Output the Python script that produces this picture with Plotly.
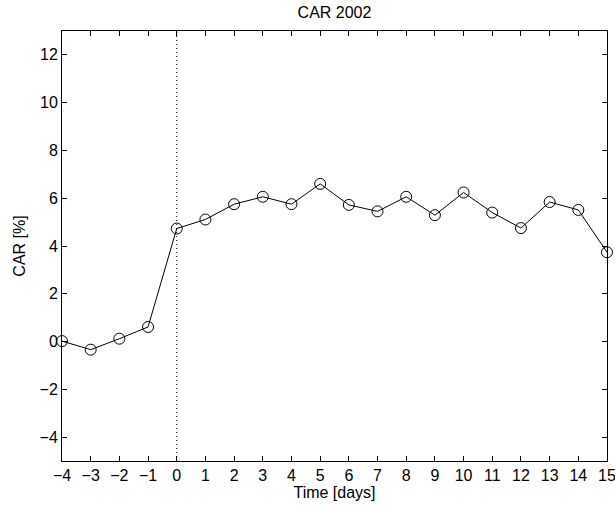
import plotly.graph_objects as go

days = list(range(-4, 16))
car = [0.02, -0.34, 0.12, 0.61, 4.73, 5.11, 5.75, 6.06, 5.75, 6.60,
       5.72, 5.45, 6.06, 5.29, 6.24, 5.40, 4.75, 5.84, 5.51, 3.74]
x_ticks = list(range(-4, 16))
y_ticks = list(range(-4, 13, 2))
title = "CAR 2002"

fig = go.Figure()
fig.add_trace(go.Scatter(
    x=[0, 0], y=[-5, 13], mode="lines",
    line=dict(color="black", width=1, dash="1px,3px"),
    showlegend=False, hoverinfo="skip"))
fig.add_trace(go.Scatter(
    x=days, y=car, mode="lines+markers",
    line=dict(color="black", width=1),
    marker=dict(symbol="circle-open", size=11, color="black", line=dict(width=1)),
    showlegend=False, cliponaxis=False))

font = dict(family="Liberation Sans, Arial, sans-serif", size=16, color="black")
axis_common = dict(
    showgrid=False, zeroline=False, showline=True, linecolor="black", linewidth=1,
    mirror="ticks", ticks="inside", ticklen=5, tickcolor="black", tickwidth=1,
    tickfont=font, automargin=False, ticklabeloverflow="allow",
)
fig.update_layout(
    width=615, height=508,
    margin=dict(l=62, r=8, t=31, b=47),
    paper_bgcolor="white", plot_bgcolor="white",
    font=font,
    title=dict(text=title, xref="paper", x=0.5, xanchor="center",
               yref="container", y=1 - 12.5 / 508, yanchor="middle", font=font),
    xaxis=dict(range=[-4, 15], tickvals=x_ticks,
               title=dict(text="Time [days]", standoff=0, font=font), **axis_common),
    yaxis=dict(range=[-5, 13], tickvals=y_ticks,
               title=dict(text="CAR [%]", standoff=9, font=font), **axis_common),
)
fig.write_html("out.html", config={"displayModeBar": False},
               post_script="document.body.style.margin='0';document.body.style.overflow='hidden';")
